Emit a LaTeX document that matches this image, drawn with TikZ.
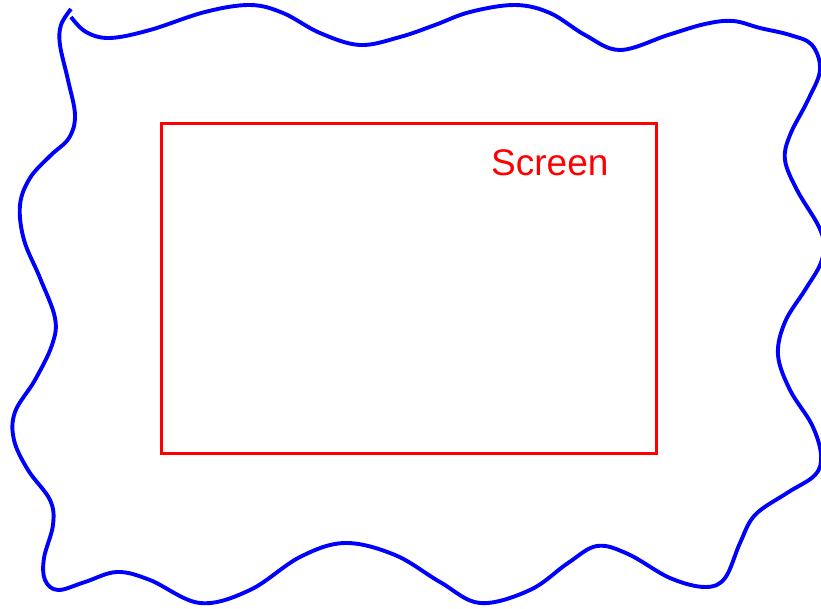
\documentclass[tikz,border=0pt]{standalone}
\usepackage{fontspec}
\setmainfont{Liberation Sans}
\begin{document}
\begin{tikzpicture}[x=1pt,y=-1pt,
  wavy/.style={draw=blue,line width=3.9pt,line cap=butt,line join=round},
  screenbox/.style={draw=red,line width=3.4pt},
  screenlabel/.style={text=red,font=\fontsize{37}{40}\selectfont,inner sep=0pt,anchor=base west}]
\useasboundingbox (0,0) rectangle (821,609);
\draw[wavy] plot[smooth,tension=0.6] coordinates {
 (71,9) (61,25) (60,45) (68,80) (75,115) (69,138) (50,156) (30,178) (20,205)
 (24,240) (40,278) (55,318) (52,345) (35,380) (15,412) (14,440) (28,470) (50,500)
 (53,525) (44,558) (45,580) (58,590) (85,582) (117,572) (150,580) (200,603)
 (250,590) (300,557) (345,543) (395,555) (440,582) (480,603) (530,590) (568,563)
 (597,546) (628,554) (670,578) (705,587) (725,578) (740,543) (755,515) (787,493)
 (815,475) (821,455) (812,425) (790,390) (778,355) (785,322) (805,290) (820,265)
 (824,245) (818,225) (797,190) (785,160) (790,135) (808,100) (820,70) (812,45)
 (790,35) (760,28) (733,21) (705,24) (668,35) (620,50) (585,35) (550,13) (515,5)
 (470,12) (435,25) (400,37) (360,45) (320,33) (283,13) (250,5) (205,12) (150,30)
 (110,38) (86,32) (71,17)};
\node[screenbox,minimum width=495pt,minimum height=330pt,inner sep=0pt,anchor=north west] (screen) at (160,122) {};
\node[screenlabel] (label) at (491,176) {Screen};
\end{tikzpicture}
\end{document}
